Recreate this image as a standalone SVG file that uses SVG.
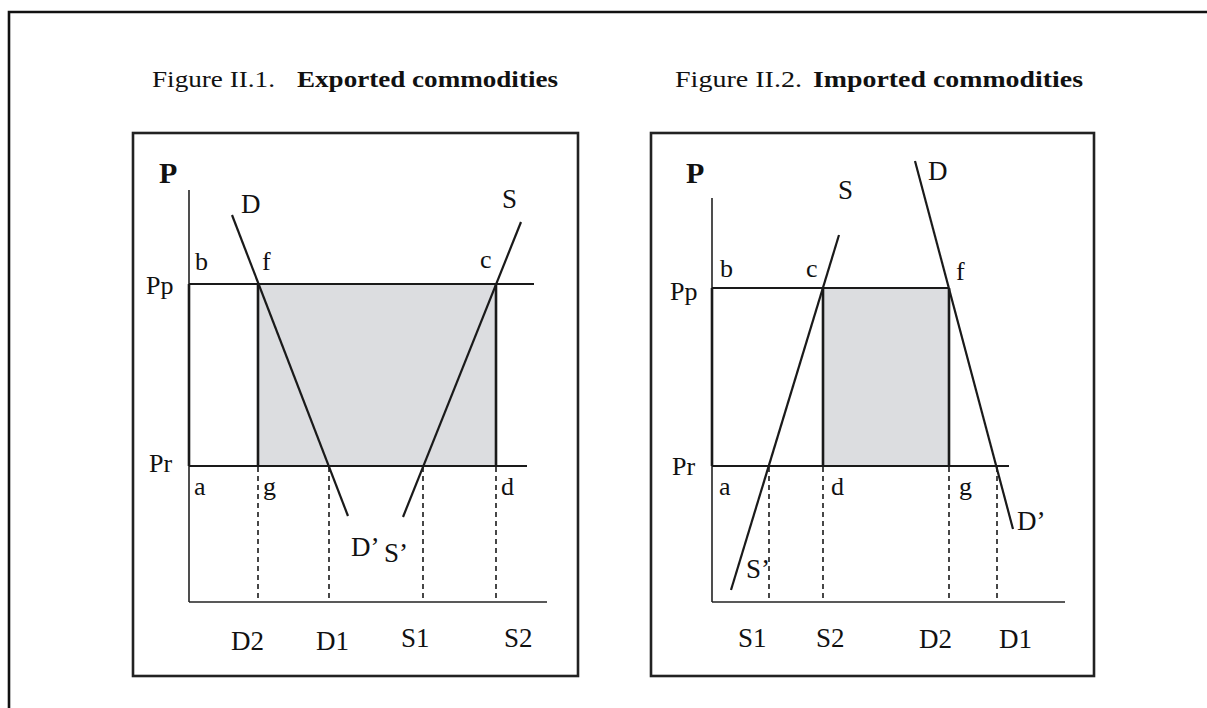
<svg xmlns="http://www.w3.org/2000/svg" width="1207" height="708" viewBox="0 0 1207 708">
<style>
.t{font-family:"Liberation Serif","Times New Roman",serif;fill:#111;}
.lbl{font-size:27px;}
.sm{font-size:26px;}
.pb{font-size:30px;font-weight:bold;}
.ttl{font-size:24px;}
.b{font-weight:bold;}
.box{fill:none;stroke:#222;stroke-width:2.6;}
.ax{stroke:#222;stroke-width:1.6;fill:none;}
.ln{stroke:#1a1a1a;stroke-width:2.2;fill:none;}
.th{stroke:#1a1a1a;stroke-width:2.6;fill:none;}
.ds{stroke:#1a1a1a;stroke-width:1.6;stroke-dasharray:5 4;fill:none;}
.sh{fill:#dcdde0;}
</style>
<path d="M9,712 V12 H1210" fill="none" stroke="#111" stroke-width="2.6"/>
<g id="titles">
<text class="t ttl" x="152" y="87" textLength="123" lengthAdjust="spacingAndGlyphs">Figure II.1.</text>
<text class="t ttl b" x="297" y="87" textLength="261" lengthAdjust="spacingAndGlyphs">Exported commodities</text>
<text class="t ttl" x="675" y="87" textLength="127" lengthAdjust="spacingAndGlyphs">Figure II.2.</text>
<text class="t ttl b" x="813" y="87" textLength="270" lengthAdjust="spacingAndGlyphs">Imported commodities</text>
</g>
<g id="panel1">
<rect class="box" x="133" y="133" width="445" height="543"/>
<rect class="sh" x="258" y="284" width="238" height="182"/>
<line class="ax" x1="189" y1="190" x2="189" y2="602"/>
<line class="ax" x1="189" y1="602" x2="547" y2="602"/>
<line class="th" x1="189" y1="284" x2="189" y2="466"/>
<line class="ln" x1="189" y1="284" x2="534" y2="284"/>
<line class="ln" x1="189" y1="466" x2="527" y2="466"/>
<line class="th" x1="258" y1="284" x2="258" y2="466"/>
<line class="th" x1="496" y1="284" x2="496" y2="466"/>
<line class="ds" x1="258" y1="467" x2="258" y2="601"/>
<line class="ds" x1="329" y1="467" x2="329" y2="601"/>
<line class="ds" x1="423" y1="467" x2="423" y2="601"/>
<line class="ds" x1="496" y1="467" x2="496" y2="601"/>
<line class="ln" x1="232" y1="215" x2="348" y2="516"/>
<line class="ln" x1="521" y1="222" x2="403" y2="517"/>
<text class="t pb" x="159" y="183">P</text>
<text class="t lbl" x="241" y="213">D</text>
<text class="t lbl" x="502" y="208">S</text>
<text class="t sm" x="195" y="270">b</text>
<text class="t sm" x="262" y="270">f</text>
<text class="t sm" x="480" y="268">c</text>
<text class="t sm" x="146" y="294">Pp</text>
<text class="t sm" x="149" y="472">Pr</text>
<text class="t sm" x="194" y="495">a</text>
<text class="t sm" x="263" y="495">g</text>
<text class="t sm" x="501" y="495">d</text>
<text class="t lbl" x="351" y="556">D’</text>
<text class="t lbl" x="384" y="562">S’</text>
<text class="t lbl" x="231" y="650">D2</text>
<text class="t lbl" x="316" y="650">D1</text>
<text class="t lbl" x="401" y="647">S1</text>
<text class="t lbl" x="504" y="647">S2</text>
</g>
<g id="panel2">
<rect class="box" x="651" y="133" width="443" height="543"/>
<rect class="sh" x="823" y="288" width="126" height="178"/>
<line class="ax" x1="712" y1="198" x2="712" y2="602"/>
<line class="ax" x1="712" y1="602" x2="1065" y2="602"/>
<line class="th" x1="712" y1="288" x2="712" y2="466"/>
<line class="ln" x1="712" y1="288" x2="949" y2="288"/>
<line class="ln" x1="712" y1="466" x2="1009" y2="466"/>
<line class="th" x1="823" y1="288" x2="823" y2="466"/>
<line class="th" x1="949" y1="288" x2="949" y2="466"/>
<line class="ds" x1="769" y1="467" x2="769" y2="601"/>
<line class="ds" x1="823" y1="467" x2="823" y2="601"/>
<line class="ds" x1="949" y1="467" x2="949" y2="601"/>
<line class="ds" x1="997" y1="467" x2="997" y2="601"/>
<line class="ln" x1="839" y1="235" x2="731" y2="590"/>
<line class="ln" x1="915" y1="161" x2="1013" y2="529"/>
<text class="t pb" x="686" y="183">P</text>
<text class="t lbl" x="838" y="199">S</text>
<text class="t lbl" x="928" y="180">D</text>
<text class="t sm" x="720" y="277">b</text>
<text class="t sm" x="806" y="277">c</text>
<text class="t sm" x="956" y="280">f</text>
<text class="t sm" x="670" y="300">Pp</text>
<text class="t sm" x="672" y="475">Pr</text>
<text class="t sm" x="719" y="495">a</text>
<text class="t sm" x="831" y="495">d</text>
<text class="t sm" x="959" y="495">g</text>
<text class="t lbl" x="1017" y="530">D’</text>
<text class="t lbl" x="746" y="578">S’</text>
<text class="t lbl" x="738" y="647">S1</text>
<text class="t lbl" x="816" y="647">S2</text>
<text class="t lbl" x="919" y="648">D2</text>
<text class="t lbl" x="999" y="648">D1</text>
</g>
</svg>
